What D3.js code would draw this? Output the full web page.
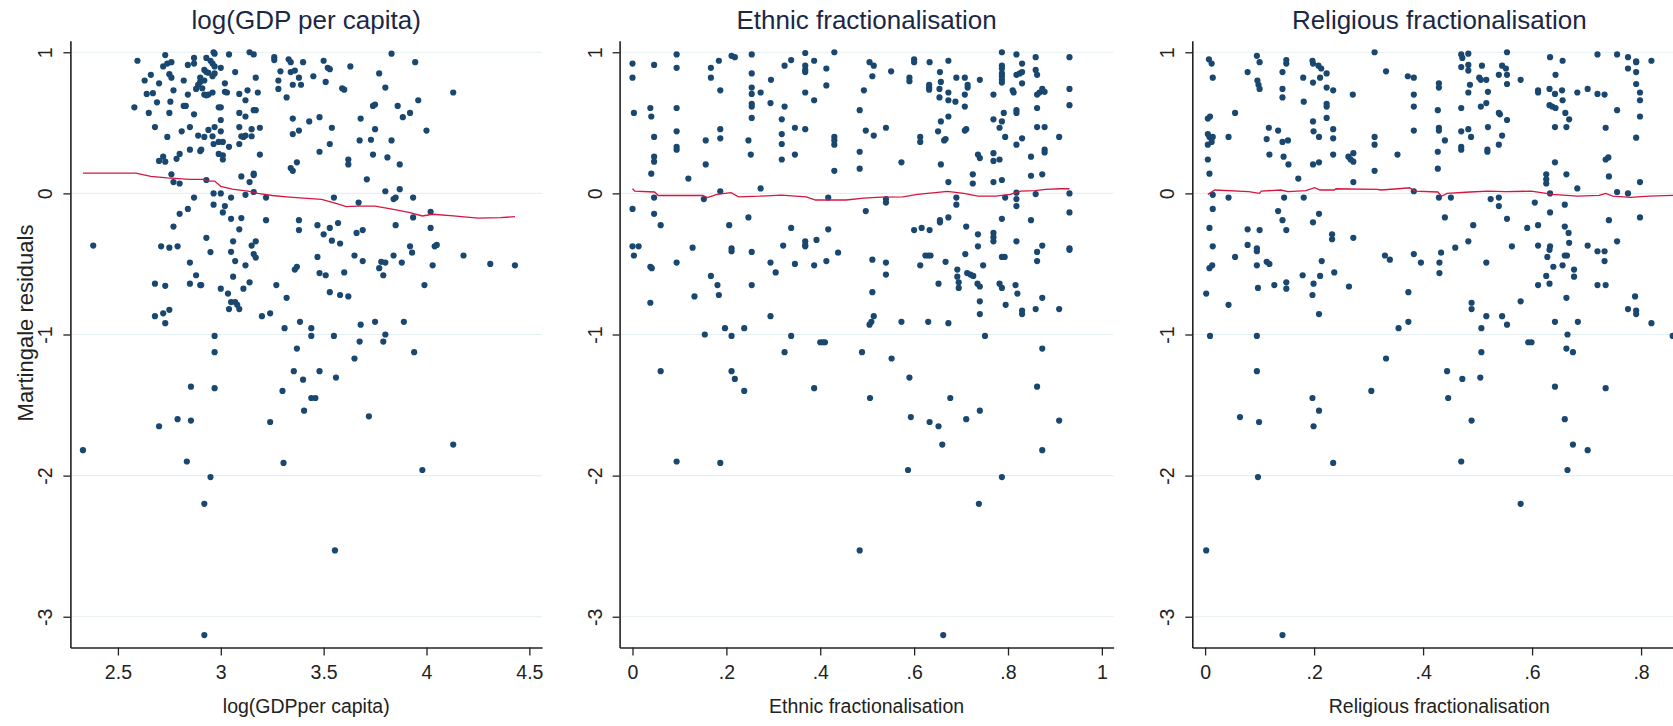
<!DOCTYPE html>
<html>
<head>
<meta charset="utf-8">
<script src="https://cdn.jsdelivr.net/npm/d3@7"></script>
<style>
  body { margin: 0; background: #fff; overflow: hidden; }
  svg { display: block; font-family: "Liberation Sans", Arial, sans-serif; }
</style>
</head>
<body>
<svg id="chart" width="1673" height="726"></svg>
<script>
// martingale residuals vs covariates, [x, residual]
var gdpPoints = [[2.595,0.94],[2.73,0.98],[2.72,0.90],[2.74,0.92],[2.76,0.93],[2.84,0.91],[2.87,0.96],[2.87,0.92],[2.93,0.96],[2.965,1.0],[2.97,0.99],[2.95,0.94],[2.96,0.92],[2.97,0.90],[3.0,0.89],[3.04,0.985],[3.14,1.0],[3.16,0.985],[3.26,0.965],[3.26,0.945],[3.33,0.95],[3.34,0.93],[3.40,0.93],[3.50,0.94],[3.52,0.89],[3.53,0.88],[3.63,0.90],[3.83,0.99],[3.945,0.93],
[2.63,0.80],[2.66,0.84],[2.75,0.845],[2.76,0.82],[2.70,0.78],[2.82,0.80],[2.90,0.82],[2.90,0.79],[2.89,0.77],[2.88,0.74],[2.92,0.80],[2.92,0.875],[2.93,0.86],[2.94,0.855],[2.96,0.83],[2.97,0.85],[3.02,0.78],[3.07,0.86],[3.17,0.82],[3.29,0.865],[3.28,0.80],[3.34,0.86],[3.36,0.87],[3.38,0.82],[3.35,0.77],[3.39,0.77],[3.45,0.83],[3.51,0.79],[3.28,0.74],[3.59,0.745],[3.60,0.735],[3.77,0.85],[3.80,0.75],[3.96,0.66],[4.13,0.715],
[2.64,0.705],[2.67,0.71],[2.65,0.57],[2.58,0.61],[2.69,0.645],[2.755,0.65],[2.75,0.57],[2.77,0.73],[2.84,0.70],[2.82,0.62],[2.83,0.62],[2.87,0.56],[2.91,0.745],[2.92,0.70],[2.93,0.695],[2.94,0.70],[2.96,0.715],[2.99,0.61],[3.0,0.61],[3.0,0.52],[3.02,0.72],[3.03,0.715],[3.09,0.705],[3.12,0.66],[3.13,0.73],[3.09,0.57],[3.12,0.545],[3.16,0.59],[3.17,0.59],[3.18,0.715],[3.32,0.68],[3.35,0.53],[3.43,0.51],[3.48,0.54],[3.68,0.53],[3.74,0.62],[3.75,0.63],[3.86,0.62],[3.885,0.54],[3.92,0.57],
[2.68,0.47],[2.74,0.40],[2.81,0.44],[2.85,0.47],[2.89,0.41],[2.92,0.40],[2.94,0.45],[2.97,0.47],[2.96,0.405],[2.965,0.35],[2.99,0.365],[3.01,0.365],[3.0,0.44],[3.04,0.33],[3.09,0.47],[3.10,0.405],[3.11,0.40],[3.12,0.41],[3.15,0.455],[3.15,0.405],[3.19,0.465],[3.09,0.35],[2.85,0.31],[2.90,0.30],[2.905,0.31],[2.99,0.28],[3.01,0.27],[3.01,0.24],[3.19,0.275],[3.35,0.42],[3.38,0.445],[3.54,0.465],[3.53,0.35],[3.48,0.295],[3.675,0.375],[3.73,0.38],[3.74,0.275],[3.83,0.375],[4.0,0.445],[3.75,0.455],[3.81,0.255],[3.62,0.24],[3.62,0.205],[3.87,0.205],
[2.70,0.23],[2.72,0.26],[2.73,0.225],[2.785,0.245],[2.80,0.28],[2.76,0.135],[2.77,0.08],[2.80,0.07],[2.93,0.095],[3.10,0.12],[3.16,0.14],[3.16,0.13],[3.14,0.08],[3.34,0.18],[3.35,0.16],[3.37,0.22],[3.71,0.10],[3.80,0.015],[3.87,0.03],
[2.965,0],[3.0,0],[3.16,0.01],[3.12,-0.01],[2.87,-0.03],[3.05,-0.03],[3.22,-0.03],[3.55,-0.03],[3.67,-0.065],[3.84,-0.04],[3.85,-0.03],[3.935,-0.03],[2.965,-0.08],[3.02,-0.09],[3.01,-0.135],[2.84,-0.11],[2.80,-0.145],[3.05,-0.18],[3.10,-0.175],[3.22,-0.19],[3.38,-0.19],[3.935,-0.17],[4.02,-0.13],[2.77,-0.235],[3.09,-0.255],[3.38,-0.26],[3.47,-0.225],[3.50,-0.29],[3.53,-0.245],[3.57,-0.21],[3.66,-0.28],[3.69,-0.26],[3.85,-0.225],[4.02,-0.245],[2.93,-0.315],[3.06,-0.34],[3.17,-0.34],[3.54,-0.335],[3.58,-0.355],[2.38,-0.37],[2.71,-0.375],[2.75,-0.385],[2.79,-0.375],[3.15,-0.37],[3.92,-0.375],[4.04,-0.375],[4.05,-0.365],
[2.95,-0.416],[3.05,-0.414],[3.16,-0.43],[3.17,-0.455],[3.47,-0.45],[3.65,-0.44],[3.69,-0.48],[3.84,-0.44],[3.93,-0.42],[4.18,-0.44],[4.31,-0.50],[4.43,-0.51],[2.85,-0.49],[3.07,-0.48],[3.12,-0.51],[3.36,-0.54],[3.37,-0.52],[3.60,-0.56],[3.77,-0.53],[3.78,-0.485],[3.80,-0.49],[3.79,-0.58],[3.88,-0.49],[4.03,-0.51],[2.88,-0.58],[3.06,-0.59],[2.68,-0.64],[2.73,-0.655],[2.85,-0.64],[2.90,-0.65],[2.905,-0.65],[3.14,-0.63],[3.27,-0.65],[3.48,-0.565],[3.51,-0.58],[3.99,-0.65],[3.0,-0.675],[3.035,-0.71],[3.05,-0.77],[3.07,-0.77],[3.08,-0.79],[3.09,-0.82],[3.04,-0.82],[3.11,-0.675],[3.32,-0.74],[3.53,-0.70],[3.58,-0.72],[3.62,-0.73],[2.68,-0.87],[2.72,-0.85],[2.75,-0.825],[2.73,-0.92],[3.20,-0.87],[3.24,-0.85],[3.385,-0.91],[3.31,-0.955],[3.44,-0.955],[3.44,-1.01],[3.55,-1.01],[3.68,-0.93],[3.75,-0.91],[3.675,-1.05],[3.80,-1.0],[3.79,-1.05],[3.89,-0.91],[2.97,-1.01],[2.97,-1.125],[3.37,-1.10],[3.65,-1.17],[3.94,-1.125],[3.355,-1.26],[3.48,-1.26],[3.40,-1.32],[3.56,-1.305],[2.855,-1.37],[2.97,-1.38],[3.30,-1.40],[3.44,-1.45],[3.46,-1.45],[3.405,-1.54],[2.70,-1.65],[2.79,-1.60],[2.855,-1.61],[3.24,-1.62],[3.72,-1.58],[2.33,-1.82],[4.13,-1.78],[2.835,-1.90],[3.305,-1.91],[3.98,-1.96],[2.95,-2.01],[2.92,-2.20],[3.555,-2.53],[2.92,-3.13]];

var gdpLowess = [[2.33,0.143],[2.587,0.143],[2.66,0.12],[2.74,0.11],[2.85,0.10],[2.92,0.10],[2.93,0.087],[2.97,0.087],[3.0,0.05],[3.056,0.03],[3.14,0.014],[3.18,0],[3.25,-0.015],[3.32,-0.024],[3.40,-0.033],[3.49,-0.042],[3.56,-0.07],[3.61,-0.094],[3.66,-0.09],[3.75,-0.09],[3.84,-0.113],[3.92,-0.136],[3.98,-0.16],[4.03,-0.148],[4.13,-0.16],[4.25,-0.176],[4.36,-0.172],[4.43,-0.165]];

var ethPoints = [[0.0,0.92],[0.0,0.82],[0.003,0.57],[0.046,0.91],[0.038,0.605],[0.04,0.545],[0.046,0.40],[0.046,0.26],[0.046,0.225],[0.04,0.14],[0.094,0.985],[0.094,0.89],[0.094,0.605],[0.094,0.44],[0.094,0.33],[0.094,0.31],[0.119,0.105],[0.156,0.375],[0.156,0.205],[0.167,0.89],[0.167,0.82],[0.184,0.94],[0.187,0.73],[0.187,0.455],[0.187,0.39],[0.187,0.015],[0.211,0.975],[0.218,0.965],[0.247,0.375],[0.252,0.275],[0.254,0.985],[0.254,0.85],[0.254,0.75],[0.254,0.705],[0.254,0.635],[0.254,0.615],[0.254,0.535],[0.273,0.715],[0.273,0.035],[0.295,0.805],[0.294,0.64],[0.318,0.24],[0.318,0.525],[0.318,0.42],[0.318,0.35],[0.324,0.905],[0.324,0.615],[0.338,0.945],[0.346,0.465],[0.346,0.275],[0.368,0.995],[0.368,0.905],[0.368,0.86],[0.368,0.875],[0.368,0.715],[0.368,0.455],[0.387,0.94],[0.387,0.66],[0.413,0.885],[0.413,0.765],[0.43,1.0],[0.43,0.40],[0.43,0.375],[0.43,0.345],[0.43,0.16],[0.484,0.59],[0.484,0.295],[0.484,0.175],[0.493,0.73],[0.497,0.445],[0.505,0.93],[0.514,0.905],[0.511,0.83],[0.514,0.41],[0.54,0.465],[0.551,0.865],[0.573,0.22],[0.59,0.82],[0.59,0.795],[0.60,0.95],[0.60,0.93],[0.613,0.40],[0.613,0.365],[0.633,0.93],[0.655,0.86],[0.657,0.79],[0.632,0.77],[0.632,0.75],[0.632,0.735],[0.654,0.74],[0.654,0.68],[0.673,0.94],[0.673,0.715],[0.673,0.66],[0.69,0.82],[0.688,0.65],[0.673,0.545],[0.657,0.51],[0.651,0.44],[0.664,0.375],[0.667,0.385],[0.657,0.205],[0.673,0.08],[0.708,0.82],[0.714,0.77],[0.714,0.75],[0.708,0.70],[0.708,0.615],[0.708,0.445],[0.711,0.455],[0.736,0.275],[0.74,0.25],[0.725,0.135],[0.725,0.07],[0.74,0.805],[0.769,0.70],[0.769,0.525],[0.769,0.285],[0.769,0.23],[0.782,0.24],[0.769,0.08],[0.782,0.465],[0.787,1.0],[0.787,0.905],[0.787,0.885],[0.787,0.85],[0.787,0.83],[0.787,0.805],[0.787,0.785],[0.791,0.57],[0.787,0.51],[0.794,0.40],[0.787,0.095],[0.81,0.73],[0.812,0.715],[0.818,0.985],[0.818,0.84],[0.83,0.92],[0.83,0.86],[0.825,0.85],[0.83,0.78],[0.818,0.59],[0.818,0.57],[0.818,0.345],[0.83,0.39],[0.849,0.26],[0.849,0.125],[0.859,0.965],[0.859,0.875],[0.862,0.84],[0.862,0.70],[0.867,0.715],[0.873,0.74],[0.878,0.72],[0.862,0.605],[0.862,0.47],[0.878,0.47],[0.878,0.31],[0.878,0.29],[0.873,0.135],[0.909,0.40],[0.931,0.965],[0.931,0.74],[0.931,0.625],[0.931,0.0],[0.931,-0.135],
[0,-0.11],[0.046,-0.03],[0.046,-0.145],[0.06,-0.225],[0.152,-0.04],[0.206,-0.225],[0.247,-0.17],[0.338,-0.245],[0.368,-0.34],[0.368,-0.365],[0.368,-0.375],[0.392,-0.33],[0.417,-0.255],[0.417,-0.03],[0.497,-0.125],[0.54,-0.04],[0.54,-0.065],[0.60,-0.26],[0.616,-0.245],[0.633,-0.26],[0.655,-0.19],[0.655,-0.205],[0.673,-0.17],[0.69,-0.03],[0.69,-0.08],[0.711,-0.235],[0.736,-0.29],[0.769,-0.28],[0.769,-0.31],[0.769,-0.34],[0.787,-0.18],[0.794,-0.03],[0.818,0.005],[0.818,-0.04],[0.818,-0.09],[0.818,-0.34],[0.849,-0.19],[0.859,-0.005],[0.873,-0.37],[0.0,-0.375],[0.013,-0.375],[0.128,-0.385],[0.211,-0.39],[0.321,-0.37],[0.736,-0.375],[0.931,-0.39],
[0.003,-0.44],[0.038,-0.52],[0.041,-0.53],[0.094,-0.49],[0.211,-0.41],[0.254,-0.415],[0.167,-0.585],[0.181,-0.65],[0.184,-0.72],[0.132,-0.73],[0.038,-0.775],[0.254,-0.65],[0.294,-0.49],[0.305,-0.56],[0.346,-0.50],[0.387,-0.51],[0.413,-0.48],[0.438,-0.42],[0.511,-0.47],[0.54,-0.49],[0.54,-0.575],[0.511,-0.70],[0.613,-0.51],[0.624,-0.44],[0.63,-0.44],[0.635,-0.44],[0.667,-0.485],[0.652,-0.64],[0.692,-0.54],[0.692,-0.59],[0.695,-0.63],[0.695,-0.67],[0.709,-0.43],[0.713,-0.565],[0.72,-0.575],[0.726,-0.585],[0.735,-0.64],[0.74,-0.66],[0.74,-0.765],[0.74,-0.855],[0.747,-0.51],[0.782,-0.64],[0.787,-0.67],[0.787,-0.45],[0.793,-0.45],[0.816,-0.65],[0.82,-0.71],[0.795,-0.79],[0.83,-0.83],[0.83,-0.855],[0.859,-0.82],[0.862,-0.415],[0.862,-0.48],[0.873,-0.74],[0.909,-0.82],[0.931,-0.40],[0.294,-0.87],[0.197,-0.955],[0.211,-1.01],[0.238,-0.955],[0.154,-1.0],[0.338,-1.01],[0.40,-1.055],[0.406,-1.055],[0.41,-1.055],[0.324,-1.125],[0.06,-1.26],[0.211,-1.26],[0.218,-1.315],[0.238,-1.40],[0.387,-1.38],[0.489,-1.125],[0.505,-0.93],[0.509,-0.91],[0.514,-0.87],[0.573,-0.91],[0.552,-1.17],[0.506,-1.45],[0.59,-1.305],[0.593,-1.585],[0.63,-0.91],[0.673,-0.92],[0.751,-1.01],[0.633,-1.62],[0.652,-1.65],[0.66,-1.78],[0.677,-1.45],[0.711,-1.60],[0.74,-1.54],[0.873,-1.10],[0.862,-1.37],[0.873,-1.82],[0.909,-1.61],[0.094,-1.90],[0.187,-1.91],[0.587,-1.96],[0.787,-2.01],[0.738,-2.20],[0.484,-2.53],[0.662,-3.13]];

var ethLowess = [[0,0.033],[0.005,0.016],[0.047,0.01],[0.055,-0.015],[0.15,-0.015],[0.16,-0.03],[0.18,-0.007],[0.21,0.005],[0.226,-0.024],[0.27,-0.02],[0.317,-0.012],[0.37,-0.024],[0.39,-0.047],[0.455,-0.047],[0.493,-0.033],[0.53,-0.026],[0.576,-0.024],[0.607,-0.007],[0.645,0.005],[0.671,0.014],[0.706,0],[0.736,-0.02],[0.774,-0.02],[0.805,-0.007],[0.827,0.016],[0.858,0.02],[0.88,0.028],[0.911,0.033],[0.931,0.033]];

var relPoints = [[0.007,0.95],[0.012,0.92],[0.014,0.82],[0.005,0.53],[0.009,0.545],[0.005,0.42],[0.008,0.40],[0.014,0.40],[0.012,0.365],[0.005,0.345],[0.005,0.24],[0.008,0.14],[0.043,0.40],[0.055,0.57],[0.078,0.86],[0.095,0.975],[0.1,0.93],[0.096,0.80],[0.098,0.77],[0.1,0.74],[0.113,0.385],[0.117,0.465],[0.118,0.275],[0.134,0.445],[0.142,0.86],[0.142,0.74],[0.142,0.68],[0.142,0.365],[0.152,0.375],[0.144,0.26],[0.153,0.205],[0.149,0.945],[0.149,0.92],[0.171,0.105],[0.18,0.82],[0.181,0.65],[0.197,0.94],[0.198,0.92],[0.208,0.905],[0.213,0.885],[0.198,0.785],[0.211,0.82],[0.223,0.85],[0.223,0.75],[0.235,0.73],[0.223,0.635],[0.223,0.615],[0.223,0.535],[0.198,0.51],[0.235,0.455],[0.235,0.39],[0.199,0.44],[0.209,0.40],[0.235,0.275],[0.198,0.205],[0.209,0.22],[0.271,0.70],[0.263,0.26],[0.267,0.24],[0.272,0.225],[0.272,0.285],[0.272,0.08],[0.311,1.0],[0.332,0.865],[0.311,0.40],[0.311,0.345],[0.311,0.16],[0.353,0.275],[0.372,0.83],[0.383,0.82],[0.383,0.70],[0.383,0.615],[0.383,0.445],[0.383,0.015],[0.429,0.78],[0.429,0.75],[0.427,0.59],[0.429,0.465],[0.429,0.445],[0.44,0.375],[0.427,0.295],[0.427,0.175],[0.47,0.985],[0.472,0.96],[0.483,0.99],[0.47,0.895],[0.483,0.91],[0.483,0.87],[0.486,0.77],[0.483,0.715],[0.47,0.605],[0.47,0.44],[0.483,0.455],[0.488,0.40],[0.47,0.33],[0.47,0.31],[0.508,0.905],[0.503,0.82],[0.506,0.805],[0.516,0.805],[0.519,0.72],[0.506,0.615],[0.516,0.64],[0.519,0.47],[0.518,0.31],[0.518,0.295],[0.539,0.84],[0.545,0.905],[0.552,0.885],[0.554,1.0],[0.554,0.84],[0.554,0.775],[0.579,0.805],[0.539,0.57],[0.541,0.56],[0.554,0.52],[0.545,0.41],[0.539,0.345],[0.611,0.73],[0.611,0.715],[0.633,0.965],[0.643,0.84],[0.632,0.74],[0.642,0.705],[0.655,0.73],[0.632,0.625],[0.637,0.615],[0.643,0.605],[0.656,0.66],[0.661,0.57],[0.668,0.525],[0.642,0.47],[0.663,0.47],[0.656,0.94],[0.683,0.715],[0.702,0.74],[0.72,0.985],[0.72,0.705],[0.733,0.70],[0.756,0.985],[0.756,0.59],[0.735,0.465],[0.776,0.965],[0.791,0.93],[0.791,0.935],[0.776,0.885],[0.791,0.86],[0.791,0.775],[0.798,0.715],[0.798,0.66],[0.798,0.545],[0.791,0.395],[0.819,0.94],[0.626,0.135],[0.626,0.10],[0.626,0.07],[0.642,0.22],[0.663,0.135],[0.683,0.035],[0.735,0.24],[0.74,0.255],[0.741,0.12],[0.798,0.08],[0.756,0.01],[0.776,0.0],[0.633,0.0],
[0.014,-0.01],[0.043,-0.03],[0.145,-0.03],[0.181,-0.03],[0.014,-0.11],[0.008,-0.245],[0.134,-0.125],[0.142,-0.19],[0.149,-0.26],[0.078,-0.255],[0.1,-0.26],[0.078,-0.365],[0.198,-0.205],[0.209,-0.145],[0.233,-0.29],[0.233,-0.325],[0.272,-0.315],[0.014,-0.375],[0.095,-0.39],[0.429,-0.03],[0.451,-0.03],[0.44,-0.17],[0.492,-0.225],[0.483,-0.34],[0.459,-0.385],[0.524,-0.04],[0.539,-0.03],[0.539,-0.09],[0.554,-0.18],[0.563,-0.375],[0.591,-0.245],[0.611,-0.225],[0.605,-0.065],[0.633,-0.135],[0.66,-0.08],[0.66,-0.235],[0.667,-0.28],[0.668,-0.35],[0.611,-0.37],[0.633,-0.375],[0.702,-0.37],[0.741,-0.19],[0.756,-0.34],[0.798,-0.17],
[0.002,-0.71],[0.008,-0.53],[0.013,-0.51],[0.009,-1.01],[0.043,-0.79],[0.055,-0.45],[0.095,-0.41],[0.095,-0.51],[0.097,-0.67],[0.095,-1.01],[0.095,-1.26],[0.064,-1.585],[0.099,-1.62],[0.097,-2.01],[0.113,-0.485],[0.118,-0.50],[0.127,-0.65],[0.149,-0.63],[0.149,-0.675],[0.179,-0.58],[0.197,-0.72],[0.199,-0.64],[0.211,-0.585],[0.214,-0.48],[0.209,-0.855],[0.237,-0.56],[0.264,-0.66],[0.197,-1.45],[0.209,-1.54],[0.199,-1.65],[0.235,-1.91],[0.305,-1.40],[0.33,-0.44],[0.339,-0.47],[0.332,-1.17],[0.355,-0.955],[0.373,-0.70],[0.373,-0.91],[0.383,-0.43],[0.396,-0.49],[0.43,-0.49],[0.43,-0.565],[0.433,-0.42],[0.444,-1.26],[0.446,-1.45],[0.472,-1.315],[0.47,-1.90],[0.489,-0.775],[0.489,-0.82],[0.489,-1.61],[0.507,-0.955],[0.507,-1.125],[0.505,-1.305],[0.516,-0.49],[0.516,-0.87],[0.545,-0.87],[0.554,-0.93],[0.579,-0.765],[0.593,-1.055],[0.599,-1.055],[0.611,-0.65],[0.628,-0.45],[0.632,-0.40],[0.626,-0.585],[0.632,-0.64],[0.639,-0.52],[0.642,-0.91],[0.642,-1.37],[0.656,-0.51],[0.66,-0.44],[0.664,-0.44],[0.663,-0.74],[0.665,-1.0],[0.663,-1.10],[0.675,-1.125],[0.677,-0.54],[0.677,-0.59],[0.684,-0.91],[0.66,-1.60],[0.675,-1.78],[0.702,-1.82],[0.665,-1.96],[0.72,-0.41],[0.733,-0.41],[0.733,-0.48],[0.72,-0.65],[0.735,-0.65],[0.735,-1.38],[0.776,-0.82],[0.789,-0.73],[0.791,-0.83],[0.791,-0.855],[0.819,-0.92],[0.858,-1.01],
[0.579,-2.20],[0.002,-2.53],[0.142,-3.13]];

var relLowess = [[0.005,-0.007],[0.018,0.024],[0.08,0.012],[0.1,0],[0.103,0.016],[0.139,0.024],[0.152,0.012],[0.185,0.019],[0.201,0.04],[0.211,0.024],[0.237,0.024],[0.24,0.033],[0.316,0.028],[0.322,0.024],[0.355,0.033],[0.375,0.04],[0.385,0.016],[0.427,0.01],[0.434,-0.02],[0.444,0],[0.486,0.01],[0.519,0.016],[0.552,0.012],[0.598,0.016],[0.617,0.005],[0.637,-0.007],[0.683,-0.02],[0.723,-0.014],[0.735,0],[0.748,-0.02],[0.781,-0.028],[0.814,-0.02],[0.86,-0.014]];

var titles = ["log(GDP per capita)", "Ethnic fractionalisation", "Religious fractionalisation"];
var xTitles = ["log(GDPper capita)", "Ethnic fractionalisation", "Religious fractionalisation"];
var gdpTicks = [2.5, 3, 3.5, 4, 4.5];
var fracTicks = [0, 0.2, 0.4, 0.6, 0.8, 1];
var relTicks = [0, 0.2, 0.4, 0.6, 0.8];
var yTicks = [1, 0, -1, -2, -3];
var yLabel = "Martingale residuals";

var svg = d3.select("#chart");

// shared y scale (same residuals in all panels)
var y = d3.scaleLinear().domain([-3.218, 1.082]).range([647.5, 40.7]);

// stata style ".2" labels, plain hyphen for negatives
function fracFmt(d) {
    if (d === 0) return "0";
    if (d === 1) return "1";
    return String(d).replace(/^0/, "");
}

var panels = [
    { left: 70.4, right: 542.1, dom: [2.269, 4.562], ticks: gdpTicks, fmt: String, pts: gdpPoints, low: gdpLowess },
    { left: 619.6, right: 1113.6, dom: [-0.0275, 1.025], ticks: fracTicks, fmt: fracFmt, pts: ethPoints, low: ethLowess },
    { left: 1192.3, right: 1686.3, dom: [-0.0235, 0.883], ticks: relTicks, fmt: fracFmt, pts: relPoints, low: relLowess }
];

panels.forEach(function (p, i) {
    var x = d3.scaleLinear().domain(p.dom).range([p.left, p.right]);
    var g = svg.append("g");

    // grid
    g.selectAll("line.grid")
        .data(yTicks)
        .enter().append("line")
        .attr("x1", p.left).attr("x2", p.right)
        .attr("y1", function (d) { return y(d); })
        .attr("y2", function (d) { return y(d); })
        .attr("stroke", "#e6eff1")
        .attr("stroke-width", 1.2);

    // dots
    g.selectAll("circle")
        .data(p.pts)
        .enter().append("circle")
        .attr("cx", function (d) { return x(d[0]); })
        .attr("cy", function (d) { return y(d[1]); })
        .attr("r", 3.1)
        .attr("fill", "#1a476f");

    // lowess
    var line = d3.line()
        .x(function (d) { return x(d[0]); })
        .y(function (d) { return y(d[1]); });
    g.append("path")
        .datum(p.low)
        .attr("d", line)
        .attr("fill", "none")
        .attr("stroke", "#d4173f")
        .attr("stroke-width", 1.3);

    // y axis
    var ya = g.append("g")
        .attr("transform", "translate(" + p.left + ",0)")
        .call(d3.axisLeft(y).tickValues(yTicks).tickSize(7).tickSizeOuter(0).tickFormat(String));
    ya.selectAll(".tick text")
        .attr("x", null).attr("dy", null)
        .attr("text-anchor", "middle")
        .attr("transform", "translate(-18,0) rotate(-90)");

    // x axis
    var xa = g.append("g")
        .attr("transform", "translate(0," + y.range()[0] + ")")
        .call(d3.axisBottom(x).tickValues(p.ticks).tickSize(8).tickSizeOuter(0).tickFormat(p.fmt));
    xa.selectAll(".tick text")
        .attr("y", 31).attr("dy", null);

    [ya, xa].forEach(function (a) {
        a.select(".domain").attr("stroke", "#222").attr("stroke-width", 1.6);
        a.selectAll(".tick line").attr("stroke", "#222").attr("stroke-width", 1.3);
        a.selectAll(".tick text")
            .attr("fill", "#222")
            .style("font-size", "19.5px")
            .style("font-family", "'Liberation Sans', Arial, sans-serif");
    });

    var cx = (p.left + p.right) / 2;

    svg.append("text")
        .attr("x", cx).attr("y", 29)
        .attr("text-anchor", "middle")
        .attr("fill", "#1c2744")
        .style("font-size", "26px")
        .text(titles[i]);

    svg.append("text")
        .attr("x", cx).attr("y", 713)
        .attr("text-anchor", "middle")
        .attr("fill", "#222")
        .style("font-size", "19.5px")
        .text(xTitles[i]);
});

svg.append("text")
    .attr("transform", "translate(33,323) rotate(-90)")
    .attr("text-anchor", "middle")
    .attr("fill", "#222")
    .style("font-size", "22px")
    .text(yLabel);
</script>
</body>
</html>
